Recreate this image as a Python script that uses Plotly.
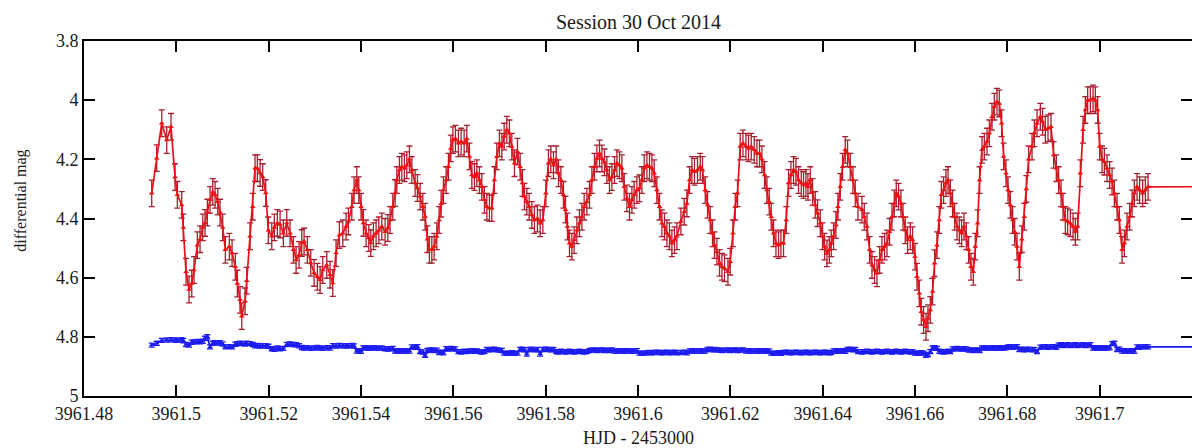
import plotly.graph_objects as go

# HJD - 2453000 of each observation
hjd = [
    3961.49467, 3961.49575, 3961.49684, 3961.49792, 3961.49885, 3961.49972, 3961.50022, 3961.50117, 3961.50152, 3961.50210,
    3961.50275, 3961.50334, 3961.50383, 3961.50455, 3961.50514, 3961.50572, 3961.50622, 3961.50672, 3961.50730, 3961.50789,
    3961.50839, 3961.50897, 3961.50947, 3961.51005, 3961.51062, 3961.51148, 3961.51207, 3961.51278, 3961.51322, 3961.51380,
    3961.51417, 3961.51489, 3961.51525, 3961.51597, 3961.51655, 3961.51705, 3961.51755, 3961.51814, 3961.51872, 3961.51937,
    3961.51993, 3961.52067, 3961.52123, 3961.52188, 3961.52247, 3961.52318, 3961.52392, 3961.52464, 3961.52535, 3961.52594,
    3961.52659, 3961.52717, 3961.52767, 3961.52838, 3961.52912, 3961.52984, 3961.53055, 3961.53114, 3961.53172, 3961.53259,
    3961.53330, 3961.53389, 3961.53460, 3961.53532, 3961.53606, 3961.53677, 3961.53727, 3961.53801, 3961.53850, 3961.53909,
    3961.53952, 3961.54002, 3961.54052, 3961.54110, 3961.54169, 3961.54212, 3961.54269, 3961.54327, 3961.54386, 3961.54451,
    3961.54522, 3961.54581, 3961.54630, 3961.54689, 3961.54739, 3961.54776, 3961.54832, 3961.54884, 3961.54940, 3961.54992,
    3961.55049, 3961.55101, 3961.55172, 3961.55222, 3961.55280, 3961.55339, 3961.55389, 3961.55439, 3961.55482, 3961.55534,
    3961.55584, 3961.55642, 3961.55692, 3961.55735, 3961.55785, 3961.55844, 3961.55894, 3961.55946, 3961.55989, 3961.56045,
    3961.56110, 3961.56169, 3961.56234, 3961.56292, 3961.56349, 3961.56401, 3961.56457, 3961.56509, 3961.56565, 3961.56617,
    3961.56674, 3961.56726, 3961.56782, 3961.56834, 3961.56890, 3961.56942, 3961.56999, 3961.57051, 3961.57101, 3961.57159,
    3961.57215, 3961.57267, 3961.57324, 3961.57389, 3961.57447, 3961.57497, 3961.57540, 3961.57592, 3961.57642, 3961.57701,
    3961.57757, 3961.57822, 3961.57881, 3961.57939, 3961.58004, 3961.58060, 3961.58112, 3961.58169, 3961.58227, 3961.58277,
    3961.58329, 3961.58385, 3961.58429, 3961.58472, 3961.58516, 3961.58568, 3961.58617, 3961.58676, 3961.58732, 3961.58784,
    3961.58834, 3961.58893, 3961.58949, 3961.59001, 3961.59057, 3961.59109, 3961.59166, 3961.59218, 3961.59274, 3961.59326,
    3961.59382, 3961.59434, 3961.59491, 3961.59543, 3961.59599, 3961.59651, 3961.59701, 3961.59759, 3961.59816, 3961.59868,
    3961.59917, 3961.59976, 3961.60032, 3961.60084, 3961.60134, 3961.60193, 3961.60249, 3961.60301, 3961.60351, 3961.60409,
    3961.60466, 3961.60518, 3961.60574, 3961.60626, 3961.60682, 3961.60734, 3961.60791, 3961.60843, 3961.60929, 3961.61001,
    3961.61059, 3961.61116, 3961.61168, 3961.61224, 3961.61289, 3961.61348, 3961.61397, 3961.61456, 3961.61506, 3961.61564,
    3961.61614, 3961.61657, 3961.61709, 3961.61766, 3961.61818, 3961.61874, 3961.61948, 3961.61998, 3961.62056, 3961.62106,
    3961.62156, 3961.62214, 3961.62273, 3961.62338, 3961.62394, 3961.62453, 3961.62518, 3961.62576, 3961.62632, 3961.62684,
    3961.62741, 3961.62793, 3961.62843, 3961.62886, 3961.62936, 3961.62988, 3961.63044, 3961.63096, 3961.63152, 3961.63211,
    3961.63261, 3961.63313, 3961.63369, 3961.63421, 3961.63477, 3961.63536, 3961.63586, 3961.63638, 3961.63681, 3961.63731,
    3961.63781, 3961.63839, 3961.63889, 3961.63948, 3961.63998, 3961.64041, 3961.64093, 3961.64143, 3961.64186, 3961.64236,
    3961.64288, 3961.64331, 3961.64381, 3961.64431, 3961.64489, 3961.64539, 3961.64598, 3961.64656, 3961.64706, 3961.64765,
    3961.64851, 3961.64901, 3961.64960, 3961.65016, 3961.65068, 3961.65124, 3961.65176, 3961.65233, 3961.65285, 3961.65341,
    3961.65393, 3961.65449, 3961.65501, 3961.65551, 3961.65594, 3961.65644, 3961.65696, 3961.65740, 3961.65789, 3961.65839,
    3961.65898, 3961.65948, 3961.66000, 3961.66043, 3961.66093, 3961.66136, 3961.66186, 3961.66238, 3961.66281, 3961.66331,
    3961.66381, 3961.66424, 3961.66476, 3961.66526, 3961.66570, 3961.66619, 3961.66671, 3961.66715, 3961.66765, 3961.66814,
    3961.66858, 3961.66910, 3961.66960, 3961.67009, 3961.67061, 3961.67111, 3961.67161, 3961.67213, 3961.67263, 3961.67306,
    3961.67356, 3961.67399, 3961.67451, 3961.67501, 3961.67560, 3961.67610, 3961.67668, 3961.67718, 3961.67776, 3961.67826,
    3961.67876, 3961.67919, 3961.67971, 3961.68015, 3961.68065, 3961.68114, 3961.68158, 3961.68210, 3961.68260, 3961.68314,
    3961.68368, 3961.68411, 3961.68461, 3961.68535, 3961.68585, 3961.68643, 3961.68715, 3961.68764, 3961.68823, 3961.68881,
    3961.68946, 3961.69003, 3961.69061, 3961.69111, 3961.69163, 3961.69206, 3961.69256, 3961.69306, 3961.69365, 3961.69423,
    3961.69473, 3961.69523, 3961.69581, 3961.69640, 3961.69690, 3961.69740, 3961.69798, 3961.69857, 3961.69906, 3961.69956,
    3961.70000, 3961.70052, 3961.70101, 3961.70160, 3961.70216, 3961.70268, 3961.70318, 3961.70377, 3961.70426, 3961.70485,
    3961.70535, 3961.70593, 3961.70650, 3961.70702, 3961.70751, 3961.70810, 3961.70866, 3961.70931, 3961.70990, 3961.71048,
    3961.80000,
]

# target star (red), differential magnitude
target_mag = [
    4.315, 4.196, 4.078, 4.135, 4.090, 4.260, 4.320, 4.354, 4.430, 4.580,
    4.640, 4.620, 4.574, 4.490, 4.470, 4.430, 4.415, 4.380, 4.337, 4.310,
    4.320, 4.343, 4.380, 4.430, 4.506, 4.495, 4.517, 4.563, 4.620, 4.675,
    4.730, 4.680, 4.610, 4.460, 4.360, 4.230, 4.230, 4.246, 4.260, 4.314,
    4.440, 4.460, 4.430, 4.415, 4.420, 4.450, 4.415, 4.450, 4.506, 4.540,
    4.523, 4.483, 4.478, 4.506, 4.550, 4.584, 4.597, 4.608, 4.574, 4.557,
    4.590, 4.618, 4.517, 4.456, 4.450, 4.427, 4.410, 4.360, 4.304, 4.270,
    4.304, 4.360, 4.415, 4.450, 4.466, 4.483, 4.460, 4.450, 4.440, 4.427,
    4.445, 4.432, 4.405, 4.360, 4.314, 4.270, 4.236, 4.225, 4.230, 4.220,
    4.200, 4.236, 4.280, 4.297, 4.326, 4.360, 4.394, 4.470, 4.506, 4.506,
    4.495, 4.460, 4.405, 4.350, 4.304, 4.270, 4.225, 4.163, 4.135, 4.130,
    4.146, 4.140, 4.146, 4.130, 4.190, 4.253, 4.260, 4.247, 4.270, 4.293,
    4.337, 4.360, 4.365, 4.365, 4.270, 4.190, 4.146, 4.157, 4.123, 4.100,
    4.112, 4.157, 4.213, 4.174, 4.225, 4.280, 4.326, 4.343, 4.360, 4.388,
    4.405, 4.400, 4.416, 4.405, 4.315, 4.213, 4.200, 4.220, 4.200, 4.247,
    4.270, 4.320, 4.370, 4.427, 4.484, 4.495, 4.473, 4.440, 4.416, 4.394,
    4.360, 4.343, 4.320, 4.270, 4.225, 4.197, 4.180, 4.197, 4.210, 4.236,
    4.270, 4.260, 4.236, 4.213, 4.220, 4.230, 4.293, 4.332, 4.360, 4.337,
    4.320, 4.304, 4.298, 4.270, 4.230, 4.220, 4.225, 4.230, 4.247, 4.304,
    4.360, 4.416, 4.427, 4.450, 4.460, 4.484, 4.473, 4.460, 4.410, 4.377,
    4.349, 4.270, 4.236, 4.242, 4.236, 4.225, 4.236, 4.304, 4.354, 4.405,
    4.450, 4.490, 4.512, 4.550, 4.563, 4.568, 4.580, 4.546, 4.450, 4.360,
    4.315, 4.157, 4.146, 4.157, 4.163, 4.157, 4.168, 4.180, 4.180, 4.200,
    4.253, 4.304, 4.343, 4.394, 4.450, 4.484, 4.490, 4.484, 4.484, 4.405,
    4.280, 4.253, 4.236, 4.242, 4.270, 4.280, 4.287, 4.280, 4.293, 4.270,
    4.310, 4.354, 4.382, 4.416, 4.460, 4.495, 4.518, 4.506, 4.484, 4.460,
    4.422, 4.360, 4.293, 4.225, 4.168, 4.180, 4.225, 4.270, 4.315, 4.360,
    4.370, 4.394, 4.427, 4.506, 4.557, 4.574, 4.585, 4.540, 4.506, 4.495,
    4.484, 4.445, 4.394, 4.349, 4.315, 4.326, 4.349, 4.394, 4.440, 4.473,
    4.460, 4.473, 4.529, 4.597, 4.653, 4.715, 4.743, 4.766, 4.737, 4.709,
    4.647, 4.551, 4.490, 4.405, 4.320, 4.304, 4.280, 4.270, 4.315, 4.349,
    4.394, 4.427, 4.440, 4.450, 4.427, 4.460, 4.506, 4.563, 4.580, 4.495,
    4.416, 4.270, 4.168, 4.157, 4.140, 4.112, 4.056, 4.022, 4.005, 4.011,
    4.078, 4.190, 4.247, 4.304, 4.354, 4.405, 4.445, 4.495, 4.563, 4.470,
    4.394, 4.300, 4.200, 4.157, 4.112, 4.078, 4.056, 4.073, 4.100, 4.095,
    4.090, 4.185, 4.230, 4.270, 4.315, 4.360, 4.405, 4.410, 4.416, 4.427,
    4.445, 4.427, 4.247, 4.100, 4.033, 4.000, 4.000, 3.994, 4.000, 4.033,
    4.157, 4.200, 4.208, 4.230, 4.253, 4.275, 4.315, 4.360, 4.405, 4.506,
    4.484, 4.427, 4.394, 4.349, 4.315, 4.293, 4.304, 4.315, 4.304, 4.293,
    4.283,
]

# comparison star (blue), differential magnitude
comp_mag = [
    4.828, 4.822, 4.812, 4.811, 4.810, 4.811, 4.812, 4.810, 4.813, 4.826,
    4.828, 4.818, 4.817, 4.816, 4.817, 4.815, 4.805, 4.800, 4.834, 4.822,
    4.820, 4.821, 4.820, 4.824, 4.834, 4.833, 4.834, 4.825, 4.823, 4.822,
    4.823, 4.824, 4.822, 4.823, 4.826, 4.830, 4.829, 4.831, 4.830, 4.830,
    4.832, 4.840, 4.842, 4.838, 4.840, 4.839, 4.826, 4.824, 4.826, 4.827,
    4.830, 4.836, 4.838, 4.837, 4.839, 4.838, 4.836, 4.838, 4.839, 4.837,
    4.838, 4.830, 4.831, 4.829, 4.830, 4.831, 4.830, 4.829, 4.831, 4.848,
    4.847, 4.849, 4.838, 4.837, 4.839, 4.838, 4.837, 4.838, 4.839, 4.838,
    4.840, 4.841, 4.840, 4.839, 4.848, 4.847, 4.849, 4.848, 4.847, 4.849,
    4.848, 4.834, 4.835, 4.833, 4.850, 4.851, 4.862, 4.846, 4.845, 4.844,
    4.846, 4.845, 4.853, 4.852, 4.854, 4.840, 4.841, 4.839, 4.840, 4.841,
    4.850, 4.851, 4.849, 4.850, 4.848, 4.847, 4.849, 4.848, 4.850, 4.851,
    4.850, 4.843, 4.844, 4.843, 4.842, 4.844, 4.845, 4.846, 4.855, 4.856,
    4.855, 4.854, 4.856, 4.855, 4.843, 4.842, 4.844, 4.858, 4.843, 4.842,
    4.844, 4.843, 4.858, 4.843, 4.842, 4.843, 4.844, 4.843, 4.850, 4.851,
    4.849, 4.850, 4.851, 4.850, 4.849, 4.850, 4.851, 4.850, 4.849, 4.850,
    4.851, 4.850, 4.846, 4.845, 4.844, 4.846, 4.845, 4.844, 4.846, 4.845,
    4.846, 4.844, 4.848, 4.849, 4.847, 4.848, 4.849, 4.847, 4.848, 4.849,
    4.848, 4.847, 4.855, 4.856, 4.855, 4.854, 4.853, 4.854, 4.853, 4.852,
    4.853, 4.854, 4.853, 4.852, 4.854, 4.853, 4.852, 4.854, 4.853, 4.852,
    4.854, 4.848, 4.847, 4.849, 4.848, 4.847, 4.849, 4.848, 4.843, 4.842,
    4.844, 4.843, 4.844, 4.845, 4.846, 4.845, 4.844, 4.846, 4.845, 4.844,
    4.846, 4.845, 4.844, 4.848, 4.847, 4.849, 4.848, 4.847, 4.849, 4.848,
    4.847, 4.849, 4.848, 4.855, 4.856, 4.855, 4.854, 4.856, 4.853, 4.852,
    4.853, 4.854, 4.853, 4.852, 4.853, 4.854, 4.853, 4.852, 4.853, 4.854,
    4.853, 4.852, 4.853, 4.854, 4.853, 4.852, 4.853, 4.854, 4.853, 4.848,
    4.847, 4.849, 4.848, 4.847, 4.849, 4.843, 4.842, 4.844, 4.843, 4.850,
    4.851, 4.850, 4.849, 4.850, 4.851, 4.850, 4.849, 4.850, 4.851, 4.850,
    4.849, 4.850, 4.851, 4.850, 4.849, 4.850, 4.851, 4.850, 4.849, 4.850,
    4.851, 4.850, 4.855, 4.856, 4.855, 4.854, 4.855, 4.862, 4.860, 4.850,
    4.838, 4.837, 4.839, 4.849, 4.850, 4.851, 4.850, 4.849, 4.850, 4.841,
    4.840, 4.839, 4.840, 4.841, 4.840, 4.841, 4.845, 4.844, 4.846, 4.845,
    4.844, 4.846, 4.838, 4.837, 4.839, 4.838, 4.837, 4.839, 4.838, 4.837,
    4.839, 4.838, 4.837, 4.834, 4.833, 4.835, 4.834, 4.833, 4.843, 4.842,
    4.844, 4.843, 4.842, 4.844, 4.843, 4.850, 4.835, 4.834, 4.833, 4.835,
    4.834, 4.833, 4.835, 4.828, 4.827, 4.829, 4.828, 4.827, 4.829, 4.828,
    4.827, 4.829, 4.828, 4.827, 4.829, 4.828, 4.827, 4.838, 4.837, 4.839,
    4.838, 4.837, 4.839, 4.838, 4.837, 4.823, 4.822, 4.843, 4.842, 4.848,
    4.847, 4.849, 4.848, 4.847, 4.849, 4.834, 4.835, 4.834, 4.833, 4.834,
    4.834,
]

# typical 1-sigma errors
target_err = 0.045
comp_err = 0.007

x_tickvals = [3961.48, 3961.50, 3961.52, 3961.54, 3961.56, 3961.58, 3961.60,
              3961.62, 3961.64, 3961.66, 3961.68, 3961.70, 3961.72]
x_ticktext = ["3961.48", "3961.5", "3961.52", "3961.54", "3961.56", "3961.58", "3961.6",
              "3961.62", "3961.64", "3961.66", "3961.68", "3961.7", "3961.72"]
y_tickvals = [3.8, 4.0, 4.2, 4.4, 4.6, 4.8, 5.0]
y_ticktext = ["3.8", "4", "4.2", "4.4", "4.6", "4.8", "5"]

n = min(len(hjd), len(target_mag), len(comp_mag))
hjd, target_mag, comp_mag = hjd[:n], target_mag[:n], comp_mag[:n]

FONT = "Liberation Serif, Times New Roman, serif"
INK = "#1a1a1a"

fig = go.Figure()
fig.add_trace(go.Scatter(
    x=hjd, y=comp_mag, mode="lines+markers",
    line=dict(color="#1c1cf0", width=1.8),
    marker=dict(symbol="triangle-up", size=5, color="#1c1cf0"),
    error_y=dict(type="constant", value=comp_err, color="#1c1cf0", thickness=1.3, width=3),
    showlegend=False, hoverinfo="x+y",
))
fig.add_trace(go.Scatter(
    x=hjd, y=target_mag, mode="lines+markers",
    line=dict(color="#e8101a", width=1.7),
    marker=dict(symbol="triangle-up", size=5, color="#f01010"),
    error_y=dict(type="constant", value=target_err, color="#a82030", thickness=1.3, width=3),
    showlegend=False, hoverinfo="x+y",
))

axis_common = dict(
    showline=True, linecolor="black", linewidth=2, mirror="ticks",
    ticks="inside", ticklen=11, tickwidth=1.6, tickcolor="black",
    showgrid=False, zeroline=False,
    tickfont=dict(family=FONT, size=18, color=INK),
)
fig.update_xaxes(range=[3961.48, 3961.72], tickvals=x_tickvals, ticktext=x_ticktext, **axis_common)
fig.update_yaxes(range=[5.0, 3.8], tickvals=y_tickvals, ticktext=y_ticktext, **axis_common)

fig.update_layout(
    width=1192, height=448,
    margin=dict(l=84, r=0, t=41, b=52, autoexpand=False),
    paper_bgcolor="white", plot_bgcolor="white",
    annotations=[
        dict(text="Session 30 Oct 2014", xref="paper", yref="paper", x=0.5, y=1.0535,
             xanchor="center", yanchor="middle", showarrow=False,
             font=dict(family=FONT, size=20, color=INK)),
        dict(text="HJD - 2453000", xref="paper", yref="paper", x=0.5, y=-0.118,
             xanchor="center", yanchor="middle", showarrow=False,
             font=dict(family=FONT, size=18, color=INK)),
        dict(text="differential mag", xref="paper", yref="paper", x=-0.0569, y=0.55,
             xanchor="center", yanchor="middle", showarrow=False, textangle=-90,
             font=dict(family=FONT, size=16, color=INK)),
    ],
)

fig.write_html("out.html")
